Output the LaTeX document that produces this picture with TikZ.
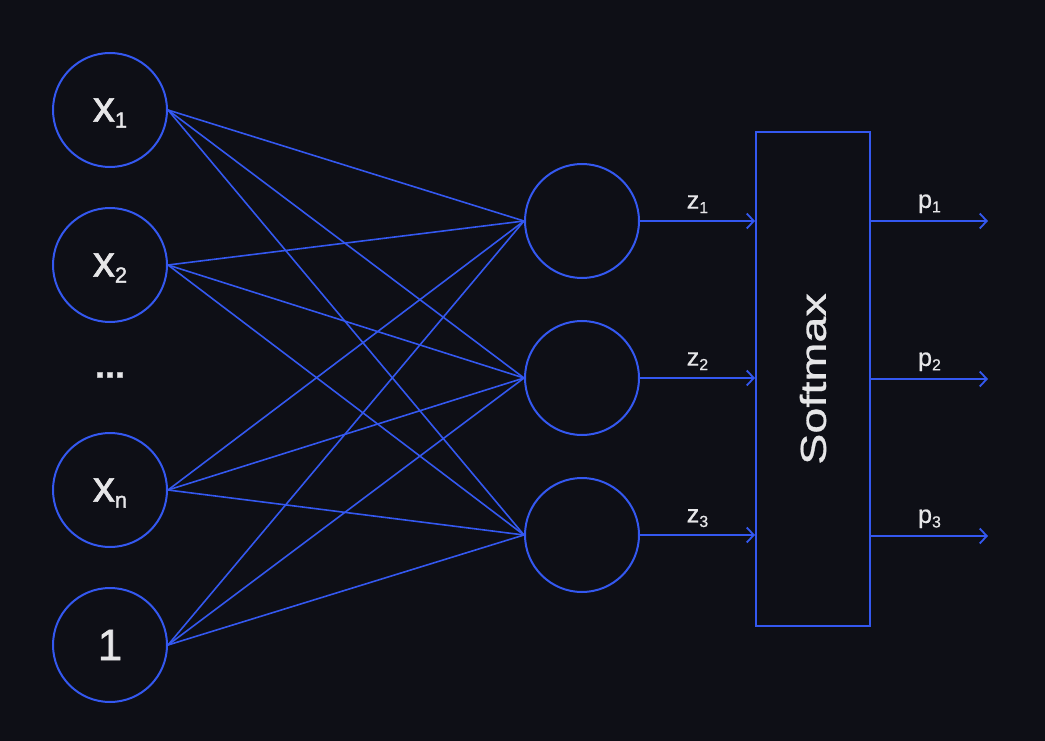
\documentclass[tikz,border=0pt]{standalone}
\usepackage{fontspec}
\setmainfont{Liberation Sans}[FakeBold=0.7]
\newfontfamily\heavyfont{Liberation Sans}[FakeBold=1.4]
\usepackage{xcolor}
\usepackage{tikz}
\usetikzlibrary{shapes,arrows.meta,positioning}

\definecolor{bgdark}{RGB}{14,15,22}
\definecolor{netblue}{RGB}{52,88,240}
\definecolor{labgray}{RGB}{230,230,232}
\newcommand{\bigsub}[1]{\raisebox{-6pt}{\fontsize{22}{22}\selectfont #1}}
\newcommand{\smallsub}[1]{\raisebox{-4.5pt}{\fontsize{16}{16}\selectfont #1}}

\begin{document}
\begin{tikzpicture}[x=1pt, y=-1pt, node distance=155pt]
    % Define styles
    \tikzstyle{inp} = [circle, minimum size=114pt, inner sep=0pt, draw=netblue, line width=2pt, text=labgray, text depth=0pt, font=\heavyfont\fontsize{44}{44}\selectfont]
    \tikzstyle{hid} = [circle, minimum size=114pt, inner sep=0pt, draw=netblue, line width=2pt]
    \tikzstyle{softbox} = [rectangle, minimum width=114pt, minimum height=494pt, draw=netblue, line width=2pt, text=labgray, font=\fontsize{36}{36}\selectfont]
    \tikzstyle{wire} = [draw=netblue, line width=1.6pt]
    \tikzstyle{outarrow} = [draw=netblue, line width=1.8pt, -{Straight Barb[length=7pt,width=15pt]}]
    \tikzstyle{lbl} = [above=7pt, inner sep=0pt, text=labgray, font=\fontsize{25}{25}\selectfont]

    % Background
    \fill[bgdark] (0,0) rectangle (1045,741);
    \useasboundingbox (0,0) rectangle (1045,741);

    % Nodes
    \node[inp] (x1) at (110,110) {x\bigsub{1}};
    \node[inp, below of=x1] (x2) {x\bigsub{2}};
    \node[below of=x2, yshift=45pt, text=labgray, font=\fontsize{36}{36}\selectfont\bfseries] (dots) {...};
    \node[inp, below of=x2, yshift=-70pt] (xn) {x\bigsub{n}};
    \node[inp, below of=xn] (one) {1};
    \node[hid] (h1) at (582,221) {};
    \node[hid, below of=h1, yshift=-2pt] (h2) {};
    \node[hid, below of=h2, yshift=-2pt] (h3) {};
    \node[softbox] (soft) at (813,379) {\rotatebox{90}{\scalebox{1.3}[1]{Softmax}}};
    \coordinate (o1) at (988,221);
    \coordinate (o2) at (988,379);
    \coordinate (o3) at (988,536);

    % Connections
    \foreach \src in {x1,x2,xn,one}
        \foreach \dst in {h1,h2,h3}
            \draw[wire] (\src.east) -- (\dst.west);
    \draw[outarrow] (h1.east) -- node[lbl] {z\smallsub{1}} (h1 -| soft.west);
    \draw[outarrow] (h2.east) -- node[lbl] {z\smallsub{2}} (h2 -| soft.west);
    \draw[outarrow] (h3.east) -- node[lbl] {z\smallsub{3}} (h3 -| soft.west);
    \draw[outarrow] (soft.east |- o1) -- node[lbl] {p\smallsub{1}} (o1);
    \draw[outarrow] (soft.east |- o2) -- node[lbl] {p\smallsub{2}} (o2);
    \draw[outarrow] (soft.east |- o3) -- node[lbl] {p\smallsub{3}} (o3);
\end{tikzpicture}
\end{document}
